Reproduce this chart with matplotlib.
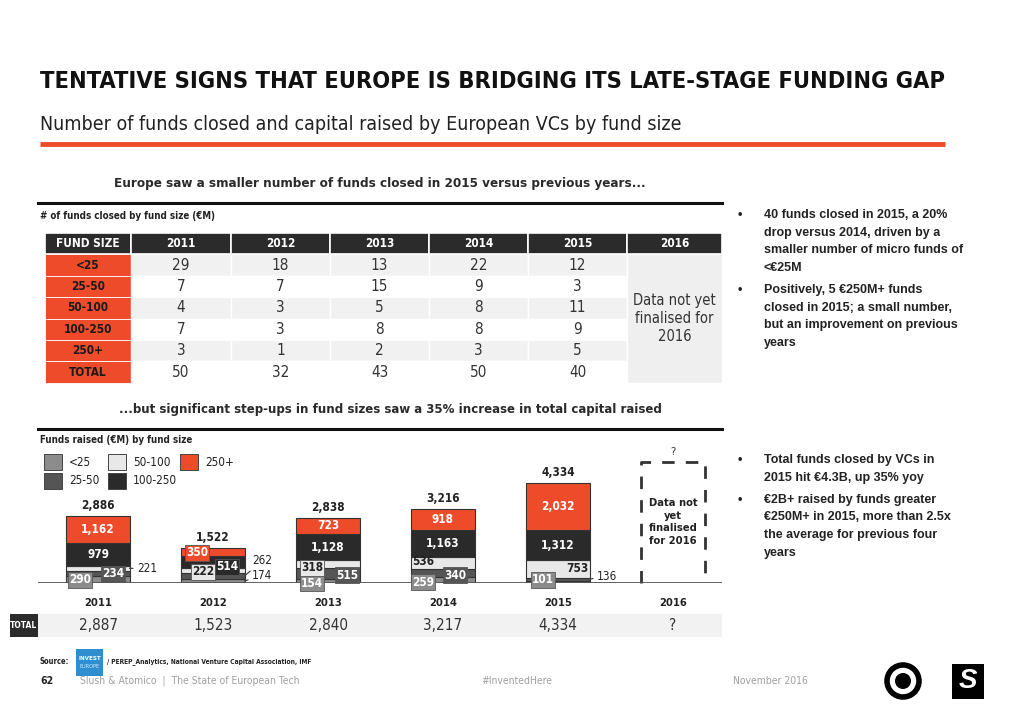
import matplotlib.pyplot as plt
from matplotlib.patches import Rectangle, Circle

# ---- data ----
years = ['2011', '2012', '2013', '2014', '2015', '2016']
fund_sizes = ['<25', '25-50', '50-100', '100-250', '250+']

# number of funds closed by fund size (table)
n_lt25 = [29, 18, 13, 22, 12]
n_25_50 = [7, 7, 15, 9, 3]
n_50_100 = [4, 3, 5, 8, 11]
n_100_250 = [7, 3, 8, 8, 9]
n_250p = [3, 1, 2, 3, 5]
n_total = [50, 32, 43, 50, 40]

# capital raised (EUR M) by fund size
cap_lt25 = [290, 174, 154, 259, 101]
cap_25_50 = [234, 262, 515, 340, 136]
cap_50_100 = [221, 222, 318, 536, 753]
cap_100_250 = [979, 514, 1128, 1163, 1312]
cap_250p = [1162, 350, 723, 918, 2032]
bar_totals = ['2,886', '1,522', '2,838', '3,216', '4,334']
row_totals = ['2,887', '1,523', '2,840', '3,217', '4,334', '?']

# ---- style ----
RED = '#ee4b2b'
DARK = '#2b2b2b'
seg_colors = ['#8c8c8c', '#555555', '#e8e8e8', '#2a2a2a', RED]
NARROW = ['DejaVu Sans']
SANS = ['Liberation Sans', 'DejaVu Sans']
plt.rcParams['font.family'] = NARROW
plt.rcParams['font.stretch'] = 'condensed'

fig = plt.figure(figsize=(10.24, 7.24), dpi=100)
pg = fig.add_axes([0, 0, 1, 1])
pg.set_xlim(0, 1024)
pg.set_ylim(724, 0)
pg.axis('off')


def T(x, y, s, size=9, weight='normal', color='#222222', ha='left', family=NARROW, **kw):
    pg.text(x, y, s, fontsize=size, fontweight=weight, color=color, ha=ha,
            va='center', family=family, **kw)


# ---- header ----
T(40, 82, 'TENTATIVE SIGNS THAT EUROPE IS BRIDGING ITS LATE-STAGE FUNDING GAP',
  size=16.9, weight='bold', color='#111111')
T(40, 125, 'Number of funds closed and capital raised by European VCs by fund size',
  size=14, color='#222222')
pg.plot([40, 945], [144, 144], color=RED, lw=3.5, solid_capstyle='butt')

# ---- section 1: table ----
T(380, 183, 'Europe saw a smaller number of funds closed in 2015 versus previous years...',
  size=9.6, weight='bold', ha='center', color='#2a2a2a')
pg.plot([38, 722], [203, 203], color='#111111', lw=2.2)
T(40, 216, '# of funds closed by fund size (€M)', size=7, weight='bold')

col_x = [45, 131, 231, 330, 429, 528, 627, 722]
top, rh = 233, 21.4
header = ['FUND SIZE'] + years
for j in range(7):
    w = col_x[j + 1] - col_x[j]
    pg.add_patch(Rectangle((col_x[j], top), w, rh, fc=DARK, ec='white', lw=1.2))
    T(col_x[j] + w / 2, top + rh / 2, header[j], size=8.5, weight='bold',
      color='white', ha='center')

table_rows = [n_lt25, n_25_50, n_50_100, n_100_250, n_250p, n_total]
row_labels = fund_sizes + ['TOTAL']
for r, vals in enumerate(table_rows):
    y0 = top + rh * (r + 1)
    w0 = col_x[1] - col_x[0]
    pg.add_patch(Rectangle((col_x[0], y0), w0, rh, fc=RED, ec='white', lw=0.6))
    T(col_x[0] + w0 / 2, y0 + rh / 2, row_labels[r], size=8.5, weight='bold',
      color='#1a1a1a', ha='center')
    bg = '#f1f1f1' if r % 2 == 0 else 'white'
    for j, v in enumerate(vals):
        w = col_x[j + 2] - col_x[j + 1]
        pg.add_patch(Rectangle((col_x[j + 1], y0), w, rh, fc=bg, ec='white', lw=1))
        T(col_x[j + 1] + w / 2, y0 + rh / 2, str(v), size=11, color='#333333', ha='center')
pg.add_patch(Rectangle((col_x[6], top + rh), col_x[7] - col_x[6], 6 * rh,
                       fc='#efefef', ec='white', lw=1))
T((col_x[6] + col_x[7]) / 2, top + rh * 4, 'Data not yet\nfinalised for\n2016',
  size=10.5, color='#333333', ha='center', multialignment='center', linespacing=1.25)

# ---- bullets ----
bullets_top = [
    ['40 funds closed in 2015, a 20%', 'drop versus 2014, driven by a',
     'smaller number of micro funds of', '<€25M'],
    ['Positively, 5 €250M+ funds', 'closed in 2015; a small number,',
     'but an improvement on previous', 'years'],
]
bullets_bottom = [
    ['Total funds closed by VCs in', '2015 hit €4.3B, up 35% yoy'],
    ['€2B+ raised by funds greater', '€250M+ in 2015, more than 2.5x',
     'the average for previous four', 'years'],
]


def bullet_block(y, blocks):
    for lines in blocks:
        T(738, y, '•', size=9, weight='bold', family=SANS)
        for ln in lines:
            T(764, y, ln, size=9, weight='bold', family=SANS, color='#222222')
            y += 17.6
        y += 4.5


bullet_block(215, bullets_top)
bullet_block(460, bullets_bottom)

# ---- section 2: bars ----
T(390, 410, '...but significant step-ups in fund sizes saw a 35% increase in total capital raised',
  size=9.45, weight='bold', ha='center', color='#2a2a2a')
pg.plot([38, 722], [429, 429], color='#111111', lw=2.2)
T(40, 440, 'Funds raised (€M) by fund size', size=7, weight='bold')

# legend
leg_pos = [(44, 462), (44, 481), (108, 462), (108, 481), (180, 462)]
for (lx, ly), lab, c in zip(leg_pos, fund_sizes, seg_colors):
    pg.add_patch(Rectangle((lx, ly - 8), 18, 16, fc=c, ec='#444444', lw=0.7))
    T(lx + 25, ly, lab, size=8.5, color='#222222')

ax = fig.add_axes([38 / 1024, (724 - 583) / 724, 684 / 1024, 128 / 724])
UPP = 43.34                     # value units per pixel
PX = 115.0                      # pixels per category
bw = 0.548
ax.set_xlim(-60 / PX, 624 / PX)
ax.set_ylim(0, 128 * UPP)
ax.patch.set_visible(False)
for s in ax.spines.values():
    s.set_visible(False)
ax.set_yticks([])
ax.set_xticks(range(6), years)
ax.tick_params(axis='x', length=0, pad=11, labelsize=8, labelcolor='#222222')
for t in ax.get_xticklabels():
    t.set_fontweight('bold')
ax.axhline(0, color='#555555', lw=1.3, zorder=5)

segments = [cap_lt25, cap_25_50, cap_50_100, cap_100_250, cap_250p]
xs = list(range(5))
bottoms = [0] * 5
mids = []
for seg, c in zip(segments, seg_colors):
    ax.bar(xs, seg, bottom=bottoms, width=bw, color=c, edgecolor='#333333', lw=0.8, zorder=2)
    mids.append([b + v / 2 for b, v in zip(bottoms, seg)])
    bottoms = [b + v for b, v in zip(bottoms, seg)]

for i, t in enumerate(bar_totals):
    ax.annotate(t, (i, bottoms[i]), xytext=(0, 7.5), textcoords='offset points',
                ha='center', va='center', fontsize=8.5, fontweight='bold', color='#222222')

# small-segment label placement: (style, dx px, dy px) from bar centre / segment middle
small_labels = {
    (0, 0): ('box', -18, 0), (0, 1): ('box', 15, 0), (0, 2): ('out', 0, 0),
    (1, 0): ('out', 0, 5), (1, 1): ('out', 0, 15), (1, 2): ('box', -10, -1.6),
    (1, 3): ('box', 14, -5), (1, 4): ('box', -16, -1),
    (2, 0): ('box', -16, -1.8), (2, 1): ('box', 19, -1.5), (2, 2): ('box', -16, -4),
    (3, 0): ('box', -20, -2), (3, 1): ('box', 12, -2), (3, 2): ('plain', -20, 1),
    (4, 0): ('box', -15, 2), (4, 1): ('out', 0, 3), (4, 2): ('plain', 19, 0),
}
for k, seg in enumerate(segments):
    txt_color = '#222222' if k == 2 else 'white'
    for i, v in enumerate(seg):
        lab = f'{v:,}'
        mode, dx, dy = small_labels.get((i, k), ('center', 0, 0))
        y = mids[k][i]
        if mode == 'center':
            ax.text(i, y, lab, ha='center', va='center', fontsize=8.5, fontweight='bold',
                    color=txt_color, zorder=6)
        elif mode == 'out':
            ax.annotate(lab, (i + bw / 2, y), xytext=(5.5, dy * 0.72),
                        textcoords='offset points', ha='left', va='center', fontsize=8.5,
                        color='#222222', annotation_clip=False, zorder=6,
                        arrowprops=dict(arrowstyle='-', color='#444444', lw=0.9,
                                        shrinkA=1, shrinkB=0))
        else:
            bbox = dict(boxstyle='square,pad=0.12', fc=seg_colors[k], ec='#555555', lw=0.6) \
                if mode == 'box' else None
            ax.annotate(lab, (i, y), xytext=(dx * 0.72, dy * 0.72), textcoords='offset points',
                        ha='center', va='center', fontsize=8.5, fontweight='bold',
                        color=txt_color, bbox=bbox, annotation_clip=False, zorder=6)

# 2016 placeholder
bh = 121 * UPP
ax.plot([5 - bw / 2, 5 - bw / 2, 5 + bw / 2, 5 + bw / 2], [0, bh, bh, 0], color='#333333',
        lw=2, linestyle=(0, (4.5, 4)), clip_on=False, zorder=3)
ax.text(5, 131 * UPP, '?', ha='center', va='center', fontsize=8, color='#333333', clip_on=False)
ax.text(5, 61 * UPP, 'Data not\nyet\nfinalised\nfor 2016', ha='center', va='center',
        fontsize=8, fontweight='bold', color='#222222', linespacing=1.35)

# total row
pg.add_patch(Rectangle((38, 614), 684, 23, fc='#f2f2f2', ec='none'))
pg.add_patch(Rectangle((10, 614), 28, 23, fc=DARK, ec='none'))
T(24, 625.5, 'TOTAL', size=6, weight='bold', color='white', ha='center')
for i, t in enumerate(row_totals):
    ax.text(i, -42 / 128, t, transform=ax.get_xaxis_transform(), ha='center', va='center',
            fontsize=11, color='#333333', clip_on=False)

# ---- footer ----
T(40, 662, 'Source:', size=5.5, weight='bold')
pg.add_patch(Rectangle((76, 649), 27, 27, fc='#2e8fd0', ec='none'))
T(89.5, 659, 'INVEST', size=4.5, weight='bold', color='white', ha='center')
T(89.5, 667, 'EUROPE', size=4, color='#d8ecff', ha='center')
T(107, 662, '/ PEREP_Analytics, National Venture Capital Association, IMF', size=4.8,
  weight='bold')
T(40, 681, '62', size=7.5, weight='bold')
T(80, 681, 'Slush & Atomico  |  The State of European Tech', size=7.5, color='#a0a0a0')
T(517, 681, '#InventedHere', size=7.5, color='#a0a0a0', ha='center')
T(733, 681, 'November 2016', size=7.5, color='#a0a0a0')

pg.add_patch(Circle((903, 681), 16, fc='none', ec='black', lw=4))
pg.add_patch(Circle((903, 681), 8, fc='black', ec='none'))
pg.add_patch(Rectangle((952, 664), 32, 35, fc='black', ec='none'))
T(968, 681.5, 'S', size=20, weight='bold', color='white', ha='center', style='italic',
  family=SANS)

fig.savefig('out.png', dpi=100)
